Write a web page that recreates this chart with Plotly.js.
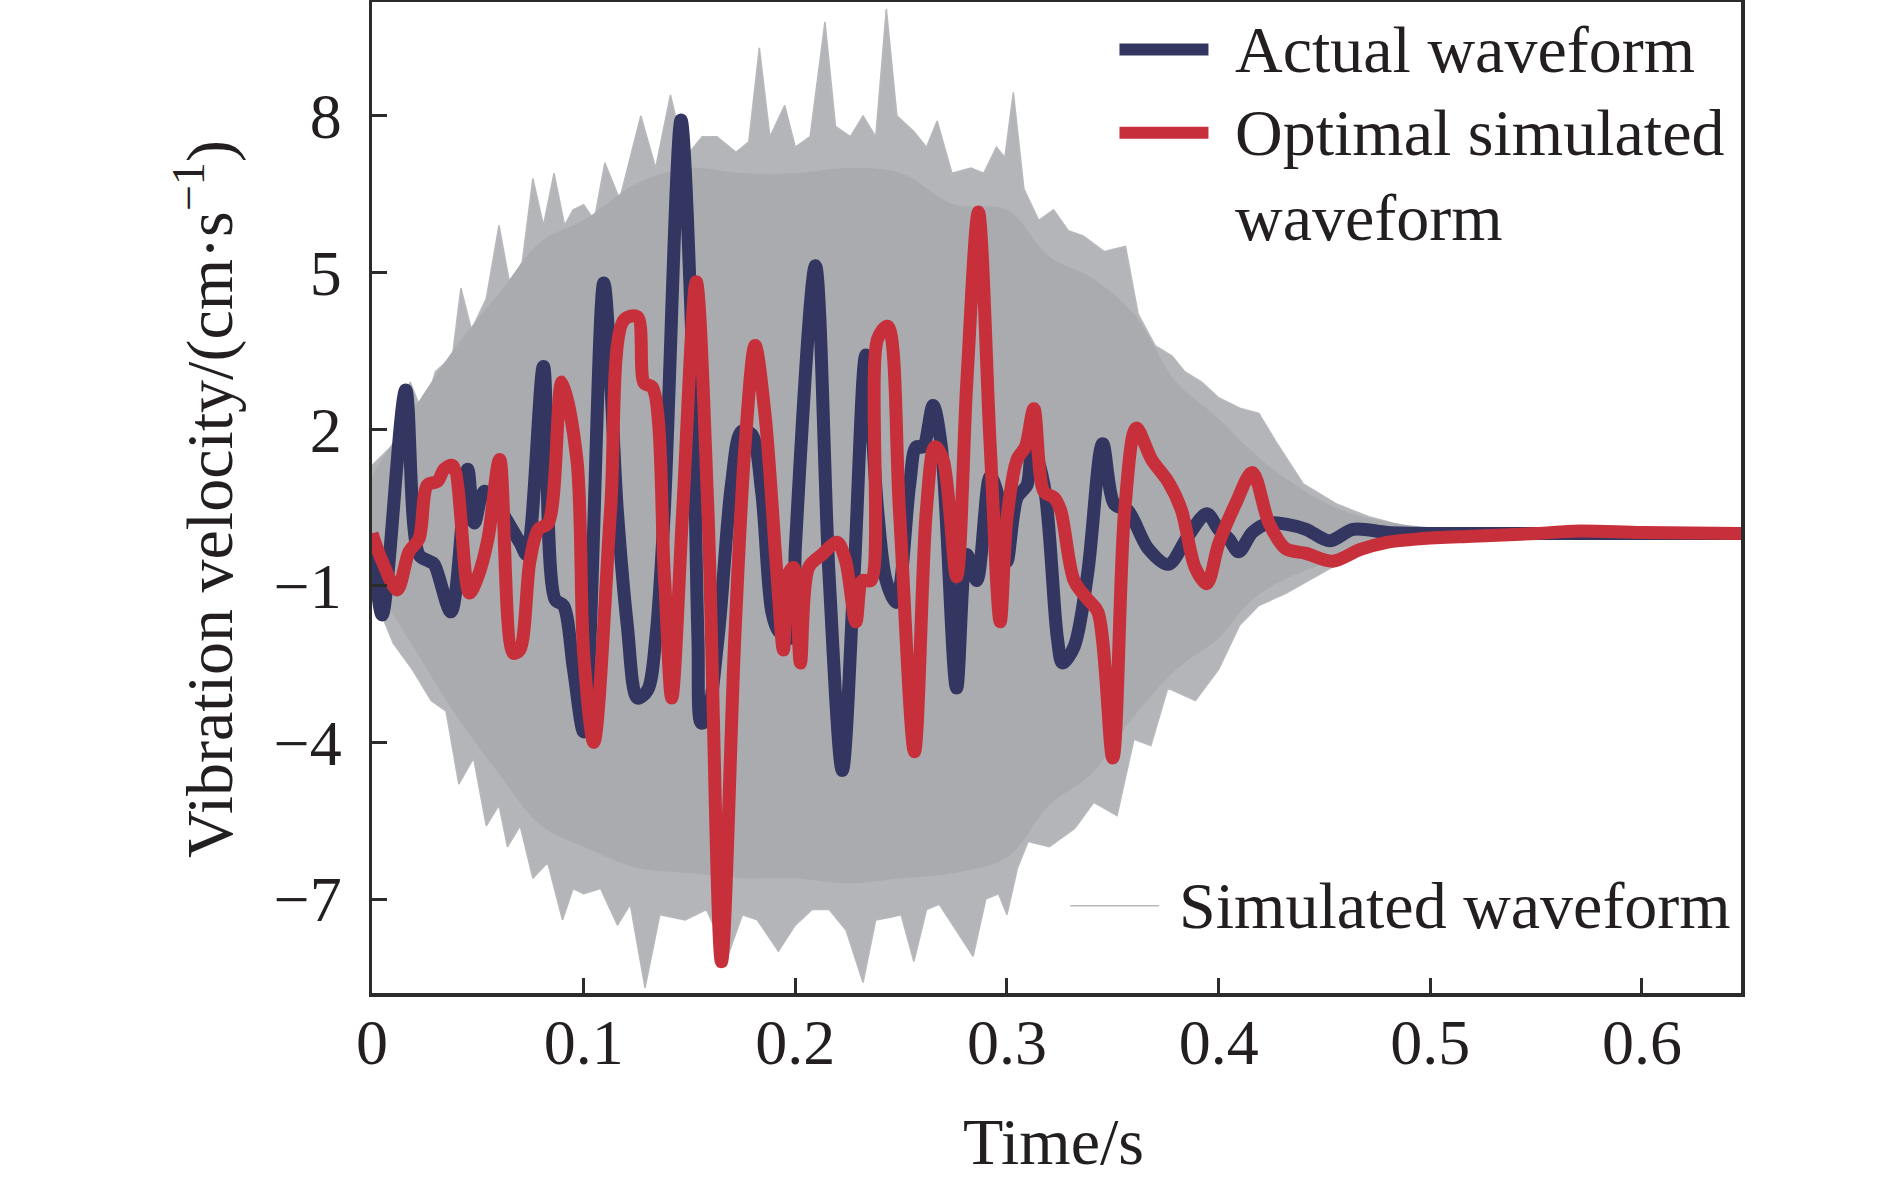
<!DOCTYPE html>
<html>
<head>
<meta charset="utf-8">
<script src="https://cdn.plot.ly/plotly-3.0.1.min.js"></script>
<style>
  html, body { margin: 0; padding: 0; background: #fff; }
  #chart { width: 1890px; height: 1186px; }
</style>
</head>
<body>
<div id="chart"></div>
<script>
// Vibration velocity: actual vs. optimal simulated waveform, over the band of simulated waveforms

// ── Data ──────────────────────────────────────────────────────────────────────
const actualT = [0, 0.0048, 0.0159, 0.0222, 0.027, 0.0294, 0.0373, 0.0452, 0.0484, 0.0532,
  0.0698, 0.073, 0.081, 0.0865, 0.0905, 0.0952, 0.1, 0.1095, 0.1159, 0.1206,
  0.1254, 0.1302, 0.1341, 0.1381, 0.146, 0.1508, 0.154, 0.1556, 0.1579, 0.1635,
  0.1698, 0.1746, 0.1794, 0.1841, 0.1889, 0.1921, 0.1984, 0.2, 0.2095, 0.2159,
  0.2222, 0.2278, 0.2333, 0.2389, 0.2429, 0.2476, 0.254, 0.2571, 0.2603, 0.2651,
  0.269, 0.2762, 0.281, 0.2857, 0.2921, 0.2968, 0.3, 0.3048, 0.3095, 0.3119,
  0.3175, 0.3238, 0.3262, 0.3317, 0.3381, 0.3452, 0.3508, 0.3571, 0.3667, 0.3762,
  0.3857, 0.3944, 0.4, 0.4048, 0.4095, 0.4159, 0.4238, 0.4317, 0.4413, 0.4524,
  0.4635, 0.48, 0.5, 0.55, 0.6, 0.647];
const actualV = [0, -1.56, 2.75, -0.41, -0.53, -0.59, -1.5, 1.23, 0.2, 0.81,
  -0.17, -0.4, 3.2, -1.26, -1.38, -2.6, -3.8, 4.8, 0.44, -1.75,
  -3.15, -3.0, -2.0, 0.44, 7.92, 4.1, -2.0, -3.63, -3.57, -2.0,
  0.93, 1.96, 1.9, 0.8, -1.5, -1.87, -2.0, -0.29, 5.13, -0.77,
  -4.54, -0.77, 3.42, 0.44, -0.9, -1.32, 0.93, 1.66, 1.66, 2.45,
  1.66, -2.96, -0.4, -0.9, 1.1, 0.56, -0.53, 0.69, 0.93, 1.66,
  0.93, -2.0, -2.48, -2.17, -0.77, 1.72, 0.56, 0.44, -0.29, -0.59,
  -0.04, 0.38, 0.08, -0.1, -0.35, 0.02, 0.2, 0.18, 0.08, -0.14,
  0.08, 0.02, 0, 0, 0, 0];

const optimalT = [0, 0.0048, 0.0119, 0.0175, 0.0222, 0.0262, 0.031, 0.0341, 0.0381, 0.046,
  0.05, 0.0548, 0.0603, 0.0667, 0.0698, 0.0746, 0.0786, 0.0833, 0.0897, 0.0968,
  0.1, 0.1048, 0.1127, 0.119, 0.1254, 0.1286, 0.1325, 0.1381, 0.1416, 0.1468,
  0.1532, 0.1587, 0.1651, 0.1714, 0.1762, 0.181, 0.1857, 0.1913, 0.1944, 0.1968,
  0.1992, 0.2024, 0.2063, 0.2127, 0.2198, 0.2238, 0.2286, 0.2317, 0.2357, 0.2389,
  0.2437, 0.2492, 0.2563, 0.2619, 0.2659, 0.2698, 0.2762, 0.281, 0.2865, 0.2921,
  0.2968, 0.3, 0.3048, 0.3087, 0.3127, 0.3175, 0.3222, 0.3254, 0.3317, 0.3381,
  0.3429, 0.35, 0.3556, 0.3611, 0.3683, 0.3762, 0.3825, 0.3889, 0.3944, 0.4,
  0.4079, 0.4159, 0.4238, 0.4317, 0.4413, 0.454, 0.4667, 0.4794, 0.4952, 0.52,
  0.55, 0.57, 0.6, 0.647];
const optimalV = [0, -0.53, -1.08, -0.35, -0.1, 0.93, 1.0, 1.23, 1.3, -1.14,
  -0.83, -0.1, 1.42, -2.29, -2.23, -0.53, 0.08, 0.2, 2.9, 1.42,
  -2.3, -4.0, 0.44, 4.09, 4.15, 2.88, 2.8, -0.77, -3.15, 0.44,
  4.82, 0.44, -8.2, -2.0, 1.66, 3.6, 2.27, -0.77, -2.23, -0.77,
  -0.65, -2.48, -0.65, -0.4, -0.17, -0.53, -1.69, -0.9, -0.9, 3.73,
  3.97, 0.44, -4.18, 0.44, 1.66, 1.42, -0.83, 2.88, 6.16, 1.66,
  -1.69, 0.3, 1.42, 1.66, 2.39, 0.8, 0.69, 0.44, -0.9, -1.26,
  -1.5, -4.3, 0.44, 2.02, 1.42, 0.99, 0.44, -0.65, -0.96, -0.2,
  0.56, 1.17, 0.2, -0.29, -0.38, -0.53, -0.31, -0.17, -0.1, -0.05,
  0.0, 0.05, 0.02, 0];

// outer reach of the simulated waveforms (spiky tips)
const simUpperT = [0, 0.01, 0.018, 0.024, 0.03, 0.038, 0.042, 0.047, 0.054, 0.06,
  0.065, 0.071, 0.076, 0.081, 0.086, 0.091, 0.095, 0.1, 0.105, 0.11,
  0.117, 0.127, 0.134, 0.141, 0.148, 0.156, 0.163, 0.172, 0.178, 0.183,
  0.188, 0.195, 0.2, 0.207, 0.214, 0.219, 0.226, 0.232, 0.238, 0.243,
  0.248, 0.256, 0.262, 0.267, 0.274, 0.283, 0.289, 0.295, 0.299, 0.303,
  0.308, 0.315, 0.322, 0.329, 0.336, 0.346, 0.356, 0.362, 0.37, 0.378,
  0.384, 0.392, 0.4, 0.41, 0.419, 0.428, 0.44, 0.456, 0.471, 0.487,
  0.5, 0.55, 0.6, 0.647];
const simUpperV = [1.3, 1.7, 2.9, 2.3, 3.1, 3.4, 4.7, 3.9, 4.5, 5.9,
  4.8, 5.2, 6.8, 5.9, 6.9, 5.9, 6.2, 6.3, 6.0, 7.1,
  6.4, 8.0, 7.0, 8.4, 7.2, 7.6, 7.6, 7.3, 7.5, 9.3,
  7.6, 8.2, 7.4, 7.6, 9.8, 7.8, 7.6, 8.0, 7.6, 10.05,
  8.0, 7.7, 7.4, 7.9, 6.9, 7.0, 6.9, 7.4, 7.2, 8.45,
  6.6, 6.0, 6.2, 5.8, 5.7, 5.4, 5.5, 4.2, 3.6, 3.4,
  3.1, 2.9, 2.6, 2.4, 2.3, 1.7, 0.95, 0.56, 0.32, 0.15,
  0.07, 0.03, 0.01, 0];
const simLowerT = [0, 0.01, 0.019, 0.028, 0.035, 0.041, 0.048, 0.054, 0.06, 0.064,
  0.07, 0.076, 0.083, 0.09, 0.095, 0.1, 0.108, 0.116, 0.122, 0.129,
  0.136, 0.148, 0.158, 0.168, 0.175, 0.182, 0.192, 0.2, 0.208, 0.216,
  0.224, 0.232, 0.238, 0.245, 0.25, 0.256, 0.262, 0.268, 0.276, 0.284,
  0.29, 0.296, 0.3, 0.305, 0.31, 0.32, 0.332, 0.341, 0.352, 0.36,
  0.368, 0.376, 0.389, 0.4, 0.41, 0.419, 0.432, 0.448, 0.464, 0.48,
  0.5, 0.55, 0.6, 0.647];
const simLowerV = [-1.1, -2.1, -2.6, -3.2, -3.4, -4.8, -4.3, -5.6, -5.2, -6.0,
  -5.6, -6.6, -6.3, -7.4, -6.8, -6.9, -6.8, -7.5, -7.1, -8.7,
  -7.3, -7.4, -7.2, -8.1, -7.3, -7.4, -8.0, -7.5, -7.2, -7.2,
  -7.6, -8.6, -7.4, -7.35, -7.3, -8.2, -7.2, -7.1, -7.6, -8.1,
  -7.0, -6.9, -7.3, -6.4, -5.9, -6.0, -5.65, -5.15, -5.4, -3.94,
  -4.06, -2.96, -3.2, -2.6, -1.75, -1.38, -1.14, -0.77, -0.41, -0.22,
  -0.1, -0.04, -0.01, 0];

// dense core where the simulated waveforms overlap completely
const coreT     = [0, 0.02, 0.04, 0.06, 0.08, 0.1, 0.125, 0.15, 0.175, 0.2, 0.225, 0.25, 0.275, 0.3,
  0.32, 0.34, 0.36, 0.38, 0.4, 0.415, 0.43, 0.455, 0.48, 0.5, 0.53, 0.56, 0.6, 0.647];
const coreUpper = [1.1, 2.4, 3.6, 4.6, 5.6, 6.0, 6.7, 7.0, 6.9, 6.9, 7.0, 6.9, 6.3, 6.2,
  5.3, 4.9, 4.2, 2.9, 2.2, 1.6, 1.1, 0.5, 0.22, 0.12, 0.06, 0.03, 0.01, 0];
const coreLower = [-0.9, -2.2, -3.5, -4.6, -5.6, -6.0, -6.4, -6.5, -6.6, -6.6, -6.7, -6.6, -6.5, -6.2,
  -5.2, -4.6, -3.5, -2.6, -2.0, -1.3, -0.9, -0.5, -0.2, -0.1, -0.05, -0.02, -0.01, 0];

const xTicks    = [0, 0.1, 0.2, 0.3, 0.4, 0.5, 0.6];
const xTickText = ['0', '0.1', '0.2', '0.3', '0.4', '0.5', '0.6'];
const yTicks    = [8, 5, 2, -1, -4, -7];
const yTickText = ['8', '5', '2', '\u22121', '\u22124', '\u22127'];

// ── Styling ───────────────────────────────────────────────────────────────────
const NAVY = '#323660';
const RED  = '#c7303a';
const GRAY_CORE  = '#a9abae';
const GRAY_OUTER = '#b3b5b8';
const GRAY_EDGE  = '#b7b9bc';
const INK  = '#231f20';
const AXIS = '#2b2b2b';
const FONT = '"Liberation Serif", "Times New Roman", serif';

// closed polygon: upper edge left->right, lower edge right->left
function band(tUp, vUp, tLo, vLo) {
  return {
    x: tUp.concat(tLo.slice().reverse()),
    y: vUp.concat(vLo.slice().reverse()),
  };
}
const outerBand = band(simUpperT, simUpperV, simLowerT, simLowerV);
const coreBand  = band(coreT, coreUpper, coreT, coreLower);

const waveLine = color => ({ color, width: 13, shape: 'spline', smoothing: 0.9 });

const traces = [
  { type: 'scatter', mode: 'lines', x: outerBand.x, y: outerBand.y, fill: 'toself',
    fillcolor: GRAY_OUTER, line: { color: GRAY_EDGE, width: 1.5 }, hoverinfo: 'skip' },
  { type: 'scatter', mode: 'lines', x: coreBand.x, y: coreBand.y, fill: 'toself',
    fillcolor: GRAY_CORE, line: { width: 0, shape: 'spline' }, hoverinfo: 'skip' },
  { type: 'scatter', mode: 'lines', name: 'Actual waveform', x: actualT, y: actualV,
    line: waveLine(NAVY) },
  { type: 'scatter', mode: 'lines', name: 'Optimal simulated waveform', x: optimalT, y: optimalV,
    line: waveLine(RED) },
];

// ── Hand-placed legend (paper coords) ─────────────────────────────────────────
const legendFont = { family: FONT, size: 66, color: INK };
function legendLine(x0, x1, y, color, width) {
  return { type: 'line', xref: 'paper', yref: 'paper', x0, x1, y0: y, y1: y,
           line: { color, width } };
}
function legendText(x, y, text) {
  return { xref: 'paper', yref: 'paper', x, y, text, showarrow: false,
           xanchor: 'left', yanchor: 'middle', font: legendFont };
}

const layout = {
  width: 1890, height: 1186,
  margin: { l: 372, r: 149, t: 2, b: 193 },
  paper_bgcolor: '#fff', plot_bgcolor: '#fff',
  showlegend: false,
  font: { family: FONT, color: INK },
  xaxis: {
    range: [0, 0.6468], tickmode: 'array', tickvals: xTicks, ticktext: xTickText,
    ticks: 'inside', ticklen: 15, tickwidth: 3, tickcolor: AXIS,
    showline: true, linecolor: AXIS, linewidth: 3.5, mirror: true,
    showgrid: false, zeroline: false,
    tickfont: { family: FONT, size: 64, color: INK }, ticklabelstandoff: -9,
  },
  yaxis: {
    range: [-8.8, 10.18], tickmode: 'array', tickvals: yTicks, ticktext: yTickText,
    ticks: 'inside', ticklen: 15, tickwidth: 3, tickcolor: AXIS,
    showline: true, linecolor: AXIS, linewidth: 3.5, mirror: true,
    showgrid: false, zeroline: false,
    tickfont: { family: FONT, size: 64, color: INK }, ticklabelstandoff: 14,
  },
  shapes: [
    legendLine(0.546, 0.611, 0.952, NAVY, 12),
    legendLine(0.546, 0.611, 0.868, RED, 12),
    legendLine(0.510, 0.575, 0.088, GRAY_EDGE, 1.5),
  ],
  annotations: [
    legendText(0.629, 0.952, 'Actual waveform'),
    legendText(0.629, 0.868, 'Optimal simulated'),
    legendText(0.629, 0.783, 'waveform'),
    legendText(0.588, 0.088, 'Simulated waveform'),
    { xref: 'paper', yref: 'paper', x: 0.498, y: -0.15, text: 'Time/s', showarrow: false,
      xanchor: 'center', yanchor: 'middle', font: { family: FONT, size: 66, color: INK } },
    { xref: 'paper', yref: 'paper', x: -0.122, y: 0.4985,
      text: 'Vibration velocity/(cm\u00b7s<sup>\u22121</sup>)', showarrow: false, textangle: -90,
      xanchor: 'center', yanchor: 'middle', font: { family: FONT, size: 66, color: INK } },
  ],
};

Plotly.newPlot('chart', traces, layout, { displayModeBar: false, staticPlot: true });
</script>
</body>
</html>
